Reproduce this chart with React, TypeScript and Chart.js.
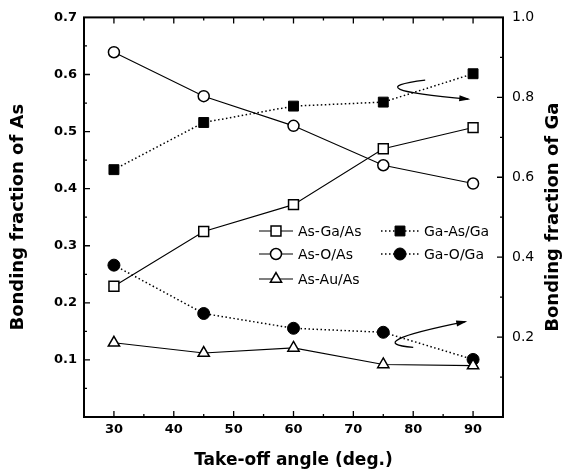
import React, { useEffect, useRef } from 'react';
import { Chart, registerables } from 'chart.js';
import { drawPoint } from 'chart.js/helpers';

Chart.register(...registerables);

// ---- data ----
const angles = [30, 45, 60, 75, 90];
const asGaAs = [0.229, 0.325, 0.372, 0.47, 0.507];
const asOAs = [0.639, 0.562, 0.51, 0.441, 0.409];
const asAuAs = [0.13, 0.112, 0.121, 0.092, 0.09];
// Ga series on the right axis (0 - 1.0)
const gaAsGa = [0.619, 0.737, 0.778, 0.788, 0.859];
const gaOGa = [0.38, 0.259, 0.222, 0.212, 0.144];

const seriesLabels = ['As-Ga/As', 'As-O/As', 'As-Au/As', 'Ga-As/Ga', 'Ga-O/Ga'];

// axis ticks
const xMajorTicks = [30, 40, 50, 60, 70, 80, 90];
const xMinorTicks = [35, 45, 55, 65, 75, 85];
const yMajorTicks = [0.1, 0.2, 0.3, 0.4, 0.5, 0.6];
const yMinorTicks = [0.05, 0.15, 0.25, 0.35, 0.45, 0.55, 0.65];
const y2MajorTicks = [0.2, 0.4, 0.6, 0.8];
const y2MinorTicks = [0.1, 0.3, 0.5, 0.7, 0.9];

// curved arrows (data units on x / left y axis): start, control, tip
const upperArrowX = [82.0, 70.0, 89.2];
const upperArrowY = [0.59, 0.5745, 0.557];
const lowerArrowX = [80.0, 71.0, 88.7];
const lowerArrowY = [0.122, 0.1295, 0.167];

const FONT = 'DejaVu Sans';

const pts = (ys: number[]) => angles.map((a, i) => ({ x: a, y: ys[i] }));

const decorPlugin = {
  id: 'decor',
  beforeDraw(chart: any) {
    const ctx = chart.ctx;
    ctx.save();
    ctx.fillStyle = '#fff';
    ctx.fillRect(0, 0, chart.width, chart.height);
    ctx.restore();
  },
  afterDatasetsDraw(chart: any) {
    const ctx = chart.ctx as CanvasRenderingContext2D;
    const { left, right, top, bottom } = chart.chartArea;
    const sx = chart.scales.x;
    const sy = chart.scales.y;
    const sy2 = chart.scales.y2;
    ctx.save();
    // frame
    ctx.strokeStyle = '#000';
    ctx.lineWidth = 2;
    ctx.setLineDash([]);
    ctx.strokeRect(left, top, right - left, bottom - top);
    // ticks
    ctx.lineWidth = 1.3;
    ctx.beginPath();
    const hx = (vals: number[], len: number) => {
      for (const v of vals) {
        const p = sx.getPixelForValue(v);
        ctx.moveTo(p, bottom);
        ctx.lineTo(p, bottom - len);
        ctx.moveTo(p, top);
        ctx.lineTo(p, top + len);
      }
    };
    hx(xMajorTicks, 6);
    hx(xMinorTicks, 3);
    for (const v of yMajorTicks) {
      const p = sy.getPixelForValue(v);
      ctx.moveTo(left, p);
      ctx.lineTo(left + 6, p);
    }
    for (const v of yMinorTicks) {
      const p = sy.getPixelForValue(v);
      ctx.moveTo(left, p);
      ctx.lineTo(left + 3, p);
    }
    for (const v of y2MajorTicks) {
      const p = sy2.getPixelForValue(v);
      ctx.moveTo(right, p);
      ctx.lineTo(right - 6, p);
    }
    for (const v of y2MinorTicks) {
      const p = sy2.getPixelForValue(v);
      ctx.moveTo(right, p);
      ctx.lineTo(right - 3, p);
    }
    ctx.stroke();

    // curved arrows
    const arrow = (xs: number[], ys: number[]) => {
      const P = xs.map((xv, i) => [sx.getPixelForValue(xv), sy.getPixelForValue(ys[i])]);
      ctx.lineWidth = 1.3;
      ctx.beginPath();
      ctx.moveTo(P[0][0], P[0][1]);
      ctx.quadraticCurveTo(P[1][0], P[1][1], P[2][0], P[2][1]);
      ctx.stroke();
      const ang = Math.atan2(P[2][1] - P[1][1], P[2][0] - P[1][0]);
      const L = 9, W = 3;
      ctx.beginPath();
      ctx.moveTo(P[2][0] + 2 * Math.cos(ang), P[2][1] + 2 * Math.sin(ang));
      ctx.lineTo(P[2][0] - L * Math.cos(ang) + W * Math.sin(ang), P[2][1] - L * Math.sin(ang) - W * Math.cos(ang));
      ctx.lineTo(P[2][0] - L * Math.cos(ang) - W * Math.sin(ang), P[2][1] - L * Math.sin(ang) + W * Math.cos(ang));
      ctx.closePath();
      ctx.fillStyle = '#000';
      ctx.fill();
    };
    arrow(upperArrowX, upperArrowY);
    arrow(lowerArrowX, lowerArrowY);

    // legend
    const ds = chart.data.datasets;
    const slots = [
      { i: 0, x: 259, y: 231 },
      { i: 1, x: 259, y: 254 },
      { i: 2, x: 259, y: 279 },
      { i: 3, x: 381, y: 231 },
      { i: 4, x: 381, y: 254 },
    ];
    ctx.font = `14px "${FONT}"`;
    ctx.textBaseline = 'middle';
    ctx.textAlign = 'left';
    for (const s of slots) {
      const d = ds[s.i];
      const lineLen = s.i < 3 ? 34 : 38;
      ctx.strokeStyle = '#000';
      ctx.lineWidth = d.borderWidth;
      ctx.setLineDash(d.borderDash || []);
      ctx.beginPath();
      ctx.moveTo(s.x, s.y);
      ctx.lineTo(s.x + lineLen, s.y);
      ctx.stroke();
      ctx.setLineDash([]);
      ctx.fillStyle = d.pointBackgroundColor;
      ctx.strokeStyle = '#000';
      ctx.lineWidth = d.pointBorderWidth;
      drawPoint(ctx, { pointStyle: d.pointStyle, rotation: 0, radius: d.pointRadius, borderWidth: d.pointBorderWidth } as any, s.x + lineLen / 2, s.y);
      ctx.fillStyle = '#000';
      ctx.fillText(d.label, s.x + lineLen + 5, s.y + 1);
    }

    // right axis title (reads bottom-to-top)
    ctx.save();
    ctx.translate(553, (top + bottom) / 2);
    ctx.rotate(-Math.PI / 2);
    ctx.font = `bold 18px "${FONT}"`;
    ctx.textAlign = 'center';
    ctx.textBaseline = 'middle';
    ctx.fillStyle = '#000';
    ctx.fillText('Bonding fraction of Ga', 0, 0);
    ctx.restore();

    ctx.restore();
  },
};

export default function App() {
  const ref = useRef<HTMLCanvasElement>(null);
  useEffect(() => {
    const canvas = ref.current!;
    const solid = { borderColor: '#000', borderWidth: 1.1, pointBorderColor: '#000', pointBorderWidth: 1.5 };
    const dotted = { borderColor: '#000', borderWidth: 1.5, borderDash: [1.5, 2.5], pointBorderColor: '#000', pointBorderWidth: 1 };
    const chart = new Chart(canvas, {
      type: 'line',
      data: {
        datasets: [
          { ...solid, label: seriesLabels[0], data: pts(asGaAs), yAxisID: 'y', pointStyle: 'rect', pointRadius: 7, pointBackgroundColor: '#fff' },
          { ...solid, label: seriesLabels[1], data: pts(asOAs), yAxisID: 'y', pointStyle: 'circle', pointRadius: 5.5, pointBackgroundColor: '#fff' },
          { ...solid, label: seriesLabels[2], data: pts(asAuAs), yAxisID: 'y', pointStyle: 'triangle', pointRadius: 6.5, pointBackgroundColor: '#fff' },
          { ...dotted, label: seriesLabels[3], data: pts(gaAsGa), yAxisID: 'y2', pointStyle: 'rect', pointRadius: 7, pointBackgroundColor: '#000' },
          { ...dotted, label: seriesLabels[4], data: pts(gaOGa), yAxisID: 'y2', pointStyle: 'circle', pointRadius: 6, pointBackgroundColor: '#000' },
        ] as any,
      },
      options: {
        responsive: false,
        animation: false,
        layout: { padding: { top: 15, left: 0, right: 0, bottom: 0 } },
        plugins: { legend: { display: false }, tooltip: { enabled: false } },
        elements: { line: { tension: 0, fill: false } },
        scales: {
          x: {
            type: 'linear',
            position: 'bottom',
            min: 25,
            max: 95,
            grid: { display: false, drawTicks: false },
            border: { display: false },
            afterBuildTicks: (s: any) => { s.ticks = xMajorTicks.map((v) => ({ value: v })); },
            ticks: {
              autoSkip: false,
              maxRotation: 0,
              padding: 5,
              color: '#000',
              font: { family: FONT, size: 13, weight: 'bold' },
              callback: (v: any) => String(v),
            },
            title: {
              display: true,
              text: 'Take-off angle (deg.)',
              color: '#000',
              font: { family: FONT, size: 17, weight: 'bold' },
              padding: { top: 0, bottom: 3 },
            },
            afterFit: (s: any) => { s.height = 57; },
          },
          y: {
            position: 'left',
            min: 0,
            max: 0.7,
            grid: { display: false, drawTicks: false },
            border: { display: false },
            ticks: {
              stepSize: 0.1,
              padding: 7,
              color: '#000',
              font: { family: FONT, size: 13, weight: 'bold' },
              callback: (v: any) => (Math.abs(v) < 1e-9 ? '' : Number(v).toFixed(1)),
            },
            title: {
              display: true,
              text: 'Bonding fraction of As',
              color: '#000',
              font: { family: FONT, size: 18, weight: 'bold' },
              padding: { top: 8, bottom: 0 },
            },
            afterFit: (s: any) => { s.width = 84; },
          },
          y2: {
            position: 'right',
            min: 0,
            max: 1,
            grid: { display: false, drawTicks: false },
            border: { display: false },
            ticks: {
              stepSize: 0.2,
              padding: 9,
              color: '#000',
              font: { family: FONT, size: 14 },
              callback: (v: any) => (Math.abs(v) < 1e-9 ? '' : Number(v).toFixed(1)),
            },
            afterFit: (s: any) => { s.width = 63; },
          },
        },
      } as any,
      plugins: [decorPlugin],
    });
    return () => chart.destroy();
  }, []);
  return (
    <div style={{ position: 'fixed', left: 0, top: 0, width: 566, height: 474, background: '#fff' }}>
      <canvas ref={ref} width={566} height={474} style={{ display: 'block', width: 566, height: 474 }} />
    </div>
  );
}
